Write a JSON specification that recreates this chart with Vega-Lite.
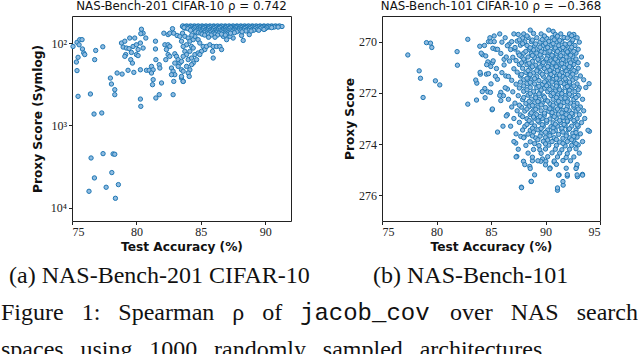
{
  "$schema": "https://vega.github.io/schema/vega-lite/v6.json",
  "padding": {"left": 1, "top": 0, "right": 0, "bottom": 0},
  "background": "white",
  "title": {"text": "spaces\u2002\u2009using\u2002\u20091000\u2002\u2009randomly\u2002\u2009sampled\u2002\u2009architectures.", "orient": "bottom", "anchor": "start", "frame": "group", "dx": -71, "offset": 32, "baseline": "alphabetic", "font": "Liberation Serif", "fontSize": 24, "fontWeight": "normal", "color": "#111"},
  "datasets": {
    "nb201": [
      {"acc":75.08,"score":110},{"acc":75.39,"score":98},{"acc":75.6,"score":91},{"acc":75.78,"score":91},{"acc":75.55,"score":105},{"acc":75.81,"score":118},{"acc":75.91,"score":132},{"acc":75.99,"score":138},{"acc":75.47,"score":149},{"acc":75.34,"score":170},{"acc":76.84,"score":123},{"acc":76.76,"score":159},{"acc":77.39,"score":111},{"acc":75.39,"score":216},{"acc":75.47,"score":443},{"acc":76.43,"score":415},{"acc":76.71,"score":726},{"acc":77.31,"score":705},
      {"acc":78.84,"score":100},{"acc":79.1,"score":95},{"acc":79.48,"score":87},{"acc":79.87,"score":87},{"acc":78.97,"score":112},{"acc":79.22,"score":115},{"acc":79.17,"score":138},{"acc":79.43,"score":117},{"acc":79.61,"score":130},{"acc":79.74,"score":110},{"acc":80.0,"score":105},{"acc":80.13,"score":120},{"acc":80.0,"score":138},{"acc":79.56,"score":159},{"acc":79.69,"score":175},{"acc":79.1,"score":145},
      {"acc":80.39,"score":68},{"acc":80.52,"score":76},{"acc":80.73,"score":87},{"acc":80.34,"score":77},{"acc":80.31,"score":100},{"acc":80.52,"score":115},{"acc":80.13,"score":142},
      {"acc":77.98,"score":266},{"acc":78.06,"score":314},{"acc":78.32,"score":368},{"acc":78.32,"score":423},{"acc":78.5,"score":231},{"acc":78.89,"score":238},{"acc":79.35,"score":214},{"acc":79.8,"score":227},{"acc":80.31,"score":211},{"acc":80.78,"score":214},{"acc":80.99,"score":214},{"acc":81.17,"score":192},{"acc":81.3,"score":211},{"acc":81.17,"score":231},{"acc":81.3,"score":278},{"acc":81.25,"score":320},{"acc":81.51,"score":464},{"acc":81.77,"score":423},{"acc":80.31,"score":478},{"acc":80.34,"score":586},
      {"acc":81.48,"score":95},{"acc":81.48,"score":118},{"acc":81.51,"score":159},{"acc":81.77,"score":183},{"acc":81.82,"score":201},{"acc":81.95,"score":305},{"acc":82.13,"score":76},{"acc":82.46,"score":79},{"acc":82.59,"score":76},{"acc":82.8,"score":67},{"acc":82.9,"score":76},{"acc":83.16,"score":81},{"acc":83.37,"score":83},{"acc":83.58,"score":63},{"acc":83.76,"score":66},{"acc":82.21,"score":105},{"acc":82.46,"score":105},{"acc":82.59,"score":110},{"acc":82.33,"score":120},{"acc":82.46,"score":138},{"acc":82.59,"score":145},{"acc":82.28,"score":159},{"acc":82.72,"score":201},{"acc":82.98,"score":135},{"acc":83.11,"score":145},{"acc":83.24,"score":159},{"acc":83.37,"score":175},{"acc":82.98,"score":175},{"acc":83.24,"score":192},{"acc":83.5,"score":211},{"acc":82.85,"score":220},{"acc":82.98,"score":242},{"acc":82.72,"score":242},{"acc":83.5,"score":266},{"acc":82.9,"score":292},{"acc":83.63,"score":292},{"acc":82.85,"score":423},
      {"acc":83.58,"score":76},{"acc":83.76,"score":83},{"acc":83.5,"score":95},{"acc":84.02,"score":87},{"acc":84.15,"score":95},{"acc":84.41,"score":91},{"acc":83.89,"score":105},{"acc":83.63,"score":110},{"acc":84.28,"score":110},{"acc":84.54,"score":83},{"acc":84.79,"score":91},{"acc":84.92,"score":100},{"acc":85.18,"score":110},{"acc":85.31,"score":120},{"acc":85.05,"score":126},{"acc":85.44,"score":110},{"acc":85.7,"score":105},{"acc":85.96,"score":110},{"acc":86.22,"score":110},{"acc":86.48,"score":110},{"acc":86.61,"score":120},{"acc":85.91,"score":126},{"acc":85.96,"score":152},{"acc":84.41,"score":115},{"acc":84.15,"score":126},{"acc":83.76,"score":126},{"acc":83.89,"score":138},{"acc":83.63,"score":145},{"acc":83.5,"score":167},{"acc":84.02,"score":159},{"acc":84.28,"score":152},{"acc":84.41,"score":175},{"acc":83.89,"score":192},{"acc":84.15,"score":211},{"acc":83.63,"score":220},{"acc":84.02,"score":231},{"acc":83.5,"score":254},{"acc":83.63,"score":292},{"acc":84.1,"score":254},{"acc":84.28,"score":183},{"acc":84.54,"score":138},{"acc":84.67,"score":159},{"acc":84.79,"score":132},{"acc":84.92,"score":138},{"acc":88.29,"score":93},{"acc":88.76,"score":79},{"acc":88.16,"score":81},{"acc":87.51,"score":87},{"acc":87.26,"score":83},{"acc":87.0,"score":91},{"acc":86.74,"score":83},
      {"acc":76.48,"score":2477},{"acc":77.41,"score":2195},{"acc":78.19,"score":2213},{"acc":78.32,"score":2234},{"acc":78.09,"score":3724},{"acc":76.74,"score":4325},{"acc":78.6,"score":5212},{"acc":77.65,"score":5610},{"acc":76.32,"score":6280},{"acc":78.37,"score":7640},
      {"acc":83.6,"score":62},{"acc":83.9,"score":62},{"acc":84.2,"score":62},{"acc":84.5,"score":62},{"acc":84.8,"score":62},{"acc":85.1,"score":62},{"acc":85.4,"score":62},{"acc":85.7,"score":62},{"acc":86.0,"score":62},{"acc":86.3,"score":62},{"acc":86.6,"score":62},{"acc":86.9,"score":62},{"acc":87.2,"score":62},{"acc":87.5,"score":62},{"acc":87.8,"score":62},{"acc":88.1,"score":62},{"acc":88.4,"score":62},{"acc":88.7,"score":62},{"acc":89.0,"score":62},{"acc":89.3,"score":62},{"acc":89.6,"score":62},{"acc":89.9,"score":62},{"acc":90.2,"score":62},{"acc":90.5,"score":62},{"acc":90.8,"score":62},{"acc":91.1,"score":62},{"acc":91.3,"score":63},
      {"acc":83.75,"score":63},{"acc":84.05,"score":63},{"acc":84.35,"score":63},{"acc":84.65,"score":63},{"acc":84.95,"score":63},{"acc":85.25,"score":63},{"acc":85.55,"score":63},{"acc":85.85,"score":63},{"acc":86.15,"score":63},{"acc":86.45,"score":63},{"acc":86.75,"score":63},{"acc":87.05,"score":63},{"acc":87.35,"score":63},{"acc":87.65,"score":63},{"acc":87.95,"score":63},{"acc":88.25,"score":63},{"acc":88.55,"score":63},{"acc":88.85,"score":63},{"acc":89.15,"score":63},{"acc":89.45,"score":63},{"acc":89.75,"score":63},{"acc":90.05,"score":63},{"acc":90.35,"score":63},{"acc":90.65,"score":63},{"acc":90.95,"score":63},
      {"acc":83.8,"score":64},{"acc":84.3,"score":64},{"acc":84.7,"score":64},{"acc":85.2,"score":64},{"acc":85.6,"score":64},{"acc":86.0,"score":64},{"acc":86.5,"score":64},{"acc":86.9,"score":64},{"acc":87.3,"score":64},{"acc":87.8,"score":64},{"acc":88.2,"score":64},{"acc":88.6,"score":64},{"acc":89.0,"score":64},{"acc":89.5,"score":64},{"acc":89.9,"score":64},{"acc":90.3,"score":64},{"acc":90.7,"score":64},{"acc":91.0,"score":64},
      {"acc":83.7,"score":65},{"acc":84.1,"score":65},{"acc":84.5,"score":65},{"acc":84.9,"score":65},{"acc":85.3,"score":65},{"acc":85.7,"score":65},{"acc":86.1,"score":65},{"acc":86.5,"score":65},{"acc":86.9,"score":65},{"acc":87.3,"score":65},{"acc":87.7,"score":65},{"acc":88.1,"score":65},{"acc":88.5,"score":65},{"acc":88.9,"score":65},{"acc":89.3,"score":65},{"acc":89.7,"score":65},{"acc":90.1,"score":65},{"acc":90.5,"score":65},
      {"acc":84.0,"score":67},{"acc":84.4,"score":67},{"acc":84.8,"score":67},{"acc":85.2,"score":67},{"acc":85.6,"score":67},{"acc":86.0,"score":67},{"acc":86.4,"score":67},{"acc":86.8,"score":67},{"acc":87.2,"score":67},{"acc":87.6,"score":67},{"acc":88.0,"score":67},{"acc":88.4,"score":67},{"acc":88.8,"score":67},{"acc":89.2,"score":67},{"acc":89.6,"score":67},{"acc":90.0,"score":67},
      {"acc":84.3,"score":68.5},{"acc":84.9,"score":68.5},{"acc":85.4,"score":68.5},{"acc":85.8,"score":68.5},{"acc":86.2,"score":68.5},{"acc":86.7,"score":68.5},{"acc":87.0,"score":68.5},{"acc":87.6,"score":68.5},{"acc":88.1,"score":68.5},{"acc":88.6,"score":68.5},{"acc":89.0,"score":68.5},{"acc":89.4,"score":68.5},{"acc":89.9,"score":68.5},
      {"acc":84.2,"score":70},{"acc":84.7,"score":70},{"acc":85.1,"score":70},{"acc":85.5,"score":70},{"acc":85.9,"score":70},{"acc":86.3,"score":70},{"acc":86.7,"score":70},{"acc":87.1,"score":70},{"acc":87.5,"score":70},{"acc":87.9,"score":70},{"acc":88.3,"score":70},{"acc":88.7,"score":70},{"acc":89.1,"score":70},{"acc":89.5,"score":70},
      {"acc":84.9,"score":71.5},{"acc":85.3,"score":71.5},{"acc":85.7,"score":71.5},{"acc":86.1,"score":71.5},{"acc":86.5,"score":71.5},{"acc":86.9,"score":71.5},{"acc":87.3,"score":71.5},{"acc":87.7,"score":71.5},{"acc":88.1,"score":71.5},{"acc":88.5,"score":71.5},{"acc":88.9,"score":71.5},
      {"acc":84.6,"score":73},{"acc":85.0,"score":73},{"acc":85.4,"score":73},{"acc":85.8,"score":73},{"acc":86.2,"score":73},{"acc":86.6,"score":73},{"acc":87.0,"score":73},{"acc":87.4,"score":73},{"acc":87.8,"score":73},{"acc":88.2,"score":73},
      {"acc":84.8,"score":75},{"acc":85.3,"score":75},{"acc":85.7,"score":75},{"acc":86.2,"score":75},{"acc":86.7,"score":75},{"acc":87.1,"score":75},{"acc":87.6,"score":75},
      {"acc":85.0,"score":76},{"acc":85.5,"score":76},{"acc":86.0,"score":76},{"acc":86.4,"score":76},{"acc":86.9,"score":76},{"acc":87.3,"score":76},
      {"acc":85.1,"score":78},{"acc":85.6,"score":78},{"acc":86.1,"score":78},{"acc":86.6,"score":78},{"acc":87.0,"score":78},
      {"acc":84.3,"score":80},{"acc":85.3,"score":80},{"acc":85.8,"score":80},{"acc":86.3,"score":80},{"acc":86.9,"score":80},{"acc":85.6,"score":85},{"acc":86.1,"score":85}
    ],
    "nb101": [
      {"acc":77.37,"score":270.52},{"acc":79.08,"score":270.04},{"acc":79.45,"score":270.06},{"acc":79.57,"score":270.23},{"acc":78.41,"score":271.14},{"acc":78.53,"score":271.43},{"acc":78.77,"score":272.18},{"acc":79.9,"score":271.53},{"acc":80.3,"score":271.69},{"acc":81.89,"score":270.39},{"acc":81.92,"score":270.92},{"acc":82.87,"score":269.91},{"acc":83.97,"score":270.18},{"acc":84.22,"score":270.51},{"acc":84.52,"score":270.56},{"acc":84.77,"score":270.0},{"acc":84.98,"score":270.0},{"acc":85.17,"score":270.26},{"acc":84.71,"score":270.79},{"acc":84.98,"score":270.97},{"acc":84.03,"score":271.27},{"acc":84.58,"score":271.27},{"acc":84.77,"score":271.25},{"acc":83.7,"score":271.62},{"acc":84.43,"score":271.83},{"acc":84.71,"score":271.96},{"acc":84.95,"score":271.98},{"acc":84.46,"score":272.19},{"acc":83.67,"score":272.28},{"acc":82.87,"score":272.44},{"acc":85.1,"score":272.66},{"acc":85.6,"score":273.53},
      {"acc":85.29,"score":269.78},{"acc":85.44,"score":270.3},{"acc":85.13,"score":270.82},{"acc":85.59,"score":271.47},{"acc":85.9,"score":271.98},{"acc":86.36,"score":271.34},{"acc":86.2,"score":270.69},{"acc":86.66,"score":270.1},{"acc":86.51,"score":271.85},{"acc":85.13,"score":272.63},{"acc":86.14,"score":272.11},
      {"acc":87.27,"score":273.96},{"acc":87.37,"score":274.48},{"acc":87.98,"score":274.67},{"acc":87.73,"score":273.7},{"acc":88.04,"score":273.72},{"acc":88.56,"score":274.87},{"acc":88.8,"score":274.65},{"acc":89.48,"score":274.22},{"acc":89.72,"score":274.58},{"acc":89.57,"score":274.67},{"acc":90.03,"score":274.67},{"acc":90.42,"score":274.93},{"acc":90.79,"score":274.7},{"acc":91.25,"score":275.2},{"acc":92.0,"score":275.25},{"acc":92.93,"score":275.27},{"acc":93.39,"score":275.18},{"acc":92.84,"score":274.9},{"acc":91.1,"score":275.8},{"acc":91.62,"score":275.6},{"acc":87.79,"score":275.68},{"acc":88.68,"score":275.46},{"acc":94.03,"score":273.5},
      {"acc":88.6,"score":269.55},{"acc":90.3,"score":269.55},{"acc":90.7,"score":269.6},
      {"acc":85.8,"score":269.7},{"acc":87.1,"score":269.7},{"acc":87.5,"score":269.72},{"acc":88.0,"score":269.7},{"acc":88.9,"score":269.68},{"acc":89.6,"score":269.7},{"acc":90.9,"score":269.72},{"acc":91.4,"score":269.7},{"acc":92.2,"score":269.7},{"acc":92.6,"score":269.72},
      {"acc":84.9,"score":269.85},{"acc":86.3,"score":269.85},{"acc":87.9,"score":269.86},{"acc":88.4,"score":269.84},{"acc":89.2,"score":269.85},{"acc":90.1,"score":269.87},{"acc":90.6,"score":269.85},{"acc":91.7,"score":269.84},{"acc":92.0,"score":269.86},{"acc":92.9,"score":269.85},
      {"acc":85.3,"score":270.0},{"acc":86.0,"score":270.02},{"acc":86.9,"score":270.0},{"acc":87.4,"score":269.98},{"acc":88.1,"score":270.01},{"acc":88.7,"score":270.0},{"acc":89.5,"score":270.02},{"acc":90.3,"score":269.99},{"acc":91.0,"score":270.0},{"acc":91.5,"score":270.01},{"acc":92.4,"score":270.0},{"acc":93.1,"score":270.02},
      {"acc":84.4,"score":270.15},{"acc":86.5,"score":270.16},{"acc":87.7,"score":270.14},{"acc":88.3,"score":270.15},{"acc":89.0,"score":270.17},{"acc":89.8,"score":270.15},{"acc":90.5,"score":270.14},{"acc":91.2,"score":270.16},{"acc":91.9,"score":270.15},{"acc":92.7,"score":270.15},
      {"acc":85.6,"score":270.3},{"acc":86.8,"score":270.31},{"acc":87.2,"score":270.29},{"acc":88.5,"score":270.3},{"acc":88.9,"score":270.32},{"acc":89.4,"score":270.3},{"acc":90.0,"score":270.28},{"acc":90.8,"score":270.3},{"acc":91.3,"score":270.31},{"acc":91.8,"score":270.3},{"acc":92.3,"score":270.29},{"acc":93.0,"score":270.3},
      {"acc":84.1,"score":270.45},{"acc":85.9,"score":270.46},{"acc":87.5,"score":270.44},{"acc":88.0,"score":270.45},{"acc":88.7,"score":270.47},{"acc":89.2,"score":270.45},{"acc":89.9,"score":270.43},{"acc":90.4,"score":270.45},{"acc":91.0,"score":270.46},{"acc":91.6,"score":270.45},{"acc":92.1,"score":270.44},{"acc":92.8,"score":270.45},
      {"acc":86.4,"score":270.6},{"acc":87.0,"score":270.61},{"acc":87.8,"score":270.59},{"acc":88.4,"score":270.6},{"acc":89.0,"score":270.62},{"acc":89.6,"score":270.6},{"acc":90.2,"score":270.58},{"acc":90.7,"score":270.6},{"acc":91.3,"score":270.61},{"acc":91.9,"score":270.6},{"acc":92.5,"score":270.59},{"acc":93.3,"score":270.6},
      {"acc":85.2,"score":270.75},{"acc":86.7,"score":270.76},{"acc":87.3,"score":270.74},{"acc":88.1,"score":270.75},{"acc":88.8,"score":270.77},{"acc":89.4,"score":270.75},{"acc":90.0,"score":270.73},{"acc":90.5,"score":270.75},{"acc":91.1,"score":270.76},{"acc":91.7,"score":270.75},{"acc":92.2,"score":270.74},{"acc":92.7,"score":270.75},
      {"acc":84.6,"score":270.9},{"acc":86.2,"score":270.91},{"acc":87.6,"score":270.89},{"acc":88.3,"score":270.9},{"acc":89.1,"score":270.92},{"acc":89.7,"score":270.9},{"acc":90.3,"score":270.88},{"acc":90.9,"score":270.9},{"acc":91.4,"score":270.91},{"acc":92.0,"score":270.9},{"acc":92.6,"score":270.89},{"acc":93.8,"score":270.9},
      {"acc":85.5,"score":271.05},{"acc":87.1,"score":271.06},{"acc":87.9,"score":271.04},{"acc":88.6,"score":271.05},{"acc":89.3,"score":271.07},{"acc":89.9,"score":271.05},{"acc":90.6,"score":271.03},{"acc":91.2,"score":271.05},{"acc":91.8,"score":271.06},{"acc":92.4,"score":271.05},{"acc":93.0,"score":271.04},
      {"acc":84.0,"score":271.2},{"acc":86.0,"score":271.21},{"acc":87.4,"score":271.19},{"acc":88.2,"score":271.2},{"acc":88.9,"score":271.22},{"acc":89.5,"score":271.2},{"acc":90.1,"score":271.18},{"acc":90.8,"score":271.2},{"acc":91.5,"score":271.21},{"acc":92.1,"score":271.2},{"acc":92.8,"score":271.19},
      {"acc":85.4,"score":271.35},{"acc":86.6,"score":271.36},{"acc":87.7,"score":271.34},{"acc":88.5,"score":271.35},{"acc":89.2,"score":271.37},{"acc":89.8,"score":271.35},{"acc":90.4,"score":271.33},{"acc":91.0,"score":271.35},{"acc":91.6,"score":271.36},{"acc":92.3,"score":271.35},{"acc":93.2,"score":271.34},
      {"acc":83.6,"score":271.5},{"acc":86.9,"score":271.51},{"acc":88.0,"score":271.49},{"acc":88.7,"score":271.5},{"acc":89.4,"score":271.52},{"acc":90.1,"score":271.5},{"acc":90.7,"score":271.48},{"acc":91.3,"score":271.5},{"acc":91.9,"score":271.51},{"acc":92.5,"score":271.5},{"acc":93.5,"score":271.49},
      {"acc":85.0,"score":271.65},{"acc":87.3,"score":271.66},{"acc":88.3,"score":271.64},{"acc":89.0,"score":271.65},{"acc":89.7,"score":271.67},{"acc":90.3,"score":271.65},{"acc":91.0,"score":271.63},{"acc":91.7,"score":271.65},{"acc":92.2,"score":271.66},{"acc":92.9,"score":271.65},{"acc":94.0,"score":271.64},
      {"acc":86.3,"score":271.8},{"acc":87.6,"score":271.81},{"acc":88.6,"score":271.79},{"acc":89.2,"score":271.8},{"acc":89.9,"score":271.82},{"acc":90.6,"score":271.8},{"acc":91.2,"score":271.78},{"acc":91.8,"score":271.8},{"acc":92.4,"score":271.81},{"acc":93.1,"score":271.8},{"acc":93.7,"score":271.79},
      {"acc":84.2,"score":271.95},{"acc":87.0,"score":271.96},{"acc":88.0,"score":271.94},{"acc":88.9,"score":271.95},{"acc":89.5,"score":271.97},{"acc":90.2,"score":271.95},{"acc":90.9,"score":271.93},{"acc":91.5,"score":271.95},{"acc":92.1,"score":271.96},{"acc":92.7,"score":271.95},
      {"acc":85.8,"score":272.1},{"acc":87.5,"score":272.11},{"acc":88.4,"score":272.09},{"acc":89.1,"score":272.1},{"acc":89.8,"score":272.12},{"acc":90.5,"score":272.1},{"acc":91.1,"score":272.08},{"acc":91.8,"score":272.1},{"acc":92.4,"score":272.11},{"acc":93.0,"score":272.1},
      {"acc":86.6,"score":272.25},{"acc":87.9,"score":272.26},{"acc":88.7,"score":272.24},{"acc":89.4,"score":272.25},{"acc":90.0,"score":272.27},{"acc":90.7,"score":272.25},{"acc":91.4,"score":272.23},{"acc":92.0,"score":272.25},{"acc":92.6,"score":272.26},{"acc":93.4,"score":272.25},
      {"acc":87.2,"score":272.4},{"acc":88.2,"score":272.41},{"acc":89.0,"score":272.39},{"acc":89.7,"score":272.4},{"acc":90.4,"score":272.42},{"acc":91.0,"score":272.4},{"acc":91.7,"score":272.38},{"acc":92.3,"score":272.4},{"acc":92.9,"score":272.41},
      {"acc":86.9,"score":272.55},{"acc":87.8,"score":272.56},{"acc":88.5,"score":272.54},{"acc":89.3,"score":272.55},{"acc":90.0,"score":272.57},{"acc":90.6,"score":272.55},{"acc":91.3,"score":272.53},{"acc":92.0,"score":272.55},{"acc":92.6,"score":272.56},{"acc":93.2,"score":272.55},
      {"acc":87.4,"score":272.7},{"acc":88.1,"score":272.71},{"acc":88.9,"score":272.69},{"acc":89.6,"score":272.7},{"acc":90.3,"score":272.72},{"acc":90.9,"score":272.7},{"acc":91.6,"score":272.68},{"acc":92.2,"score":272.7},{"acc":92.8,"score":272.71},{"acc":93.5,"score":272.7},
      {"acc":86.5,"score":272.85},{"acc":87.7,"score":272.86},{"acc":88.6,"score":272.84},{"acc":89.2,"score":272.85},{"acc":89.9,"score":272.87},{"acc":90.6,"score":272.85},{"acc":91.2,"score":272.83},{"acc":91.9,"score":272.85},{"acc":92.5,"score":272.86},{"acc":93.1,"score":272.85},
      {"acc":87.1,"score":273.0},{"acc":88.3,"score":273.01},{"acc":89.0,"score":272.99},{"acc":89.7,"score":273.0},{"acc":90.4,"score":273.02},{"acc":91.0,"score":273.0},{"acc":91.7,"score":272.98},{"acc":92.3,"score":273.0},{"acc":92.9,"score":273.01},{"acc":93.6,"score":273.0},
      {"acc":87.6,"score":273.15},{"acc":88.7,"score":273.16},{"acc":89.4,"score":273.14},{"acc":90.1,"score":273.15},{"acc":90.7,"score":273.17},{"acc":91.4,"score":273.15},{"acc":92.0,"score":273.13},{"acc":92.7,"score":273.15},{"acc":93.3,"score":273.16},
      {"acc":86.8,"score":273.3},{"acc":88.1,"score":273.31},{"acc":89.0,"score":273.29},{"acc":89.8,"score":273.3},{"acc":90.5,"score":273.32},{"acc":91.1,"score":273.3},{"acc":91.8,"score":273.28},{"acc":92.4,"score":273.3},{"acc":93.0,"score":273.31},
      {"acc":87.9,"score":273.45},{"acc":88.6,"score":273.46},{"acc":89.3,"score":273.44},{"acc":90.2,"score":273.45},{"acc":90.9,"score":273.47},{"acc":91.5,"score":273.45},{"acc":92.1,"score":273.43},{"acc":92.8,"score":273.45},{"acc":93.9,"score":273.46},
      {"acc":87.3,"score":273.6},{"acc":88.4,"score":273.61},{"acc":89.6,"score":273.59},{"acc":90.4,"score":273.6},{"acc":91.2,"score":273.62},{"acc":91.9,"score":273.6},{"acc":92.5,"score":273.58},{"acc":93.2,"score":273.6},
      {"acc":88.0,"score":273.75},{"acc":89.1,"score":273.76},{"acc":90.0,"score":273.74},{"acc":90.8,"score":273.75},{"acc":91.6,"score":273.77},{"acc":92.2,"score":273.75},{"acc":92.9,"score":273.73},
      {"acc":87.1,"score":273.9},{"acc":88.6,"score":273.91},{"acc":89.8,"score":273.89},{"acc":90.6,"score":273.9},{"acc":91.3,"score":273.92},{"acc":92.0,"score":273.9},{"acc":92.6,"score":273.88},{"acc":93.4,"score":273.9},
      {"acc":88.2,"score":274.05},{"acc":89.4,"score":274.06},{"acc":90.3,"score":274.04},{"acc":91.0,"score":274.05},{"acc":91.8,"score":274.07},{"acc":92.4,"score":274.05},{"acc":93.0,"score":274.03},
      {"acc":87.5,"score":274.2},{"acc":88.9,"score":274.21},{"acc":90.0,"score":274.19},{"acc":90.9,"score":274.2},{"acc":91.5,"score":274.22},{"acc":92.2,"score":274.2},{"acc":92.8,"score":274.18},
      {"acc":88.4,"score":274.35},{"acc":89.6,"score":274.36},{"acc":90.6,"score":274.34},{"acc":91.3,"score":274.35},{"acc":92.0,"score":274.37},{"acc":93.1,"score":274.35},
      {"acc":87.3,"score":274.5},{"acc":88.8,"score":274.51},{"acc":90.2,"score":274.49},{"acc":91.1,"score":274.5},{"acc":91.9,"score":274.52},{"acc":92.6,"score":274.5},
      {"acc":89.3,"score":274.65},{"acc":90.8,"score":274.66},{"acc":91.6,"score":274.64},{"acc":92.3,"score":274.65},
      {"acc":88.1,"score":274.8},{"acc":90.0,"score":274.81},{"acc":91.0,"score":274.79},{"acc":92.9,"score":274.8},
      {"acc":88.6,"score":274.95},{"acc":90.4,"score":274.96},{"acc":91.9,"score":274.94},{"acc":92.8,"score":274.95},
      {"acc":89.0,"score":275.2},{"acc":91.2,"score":275.21},{"acc":92.0,"score":275.19},{"acc":92.9,"score":275.2},{"acc":93.4,"score":275.21},
      {"acc":88.7,"score":275.45},{"acc":91.6,"score":275.46},{"acc":87.8,"score":275.7},{"acc":91.1,"score":275.71},
      {"acc":86.1,"score":273.3},{"acc":86.4,"score":272.9},{"acc":85.9,"score":272.3},
      {"acc":88.3,"score":269.78},{"acc":89.9,"score":269.78},{"acc":91.1,"score":269.79},{"acc":92.4,"score":269.77},
      {"acc":87.6,"score":269.93},{"acc":88.8,"score":269.94},{"acc":89.7,"score":269.92},{"acc":90.8,"score":269.93},{"acc":91.3,"score":269.95},{"acc":92.5,"score":269.93},
      {"acc":87.9,"score":270.08},{"acc":89.1,"score":270.09},{"acc":90.0,"score":270.07},{"acc":90.7,"score":270.08},{"acc":91.8,"score":270.1},{"acc":92.2,"score":270.08},
      {"acc":87.2,"score":270.23},{"acc":88.6,"score":270.24},{"acc":89.5,"score":270.22},{"acc":90.2,"score":270.23},{"acc":90.9,"score":270.25},{"acc":91.6,"score":270.23},{"acc":92.4,"score":270.22},
      {"acc":88.2,"score":270.38},{"acc":89.6,"score":270.39},{"acc":90.4,"score":270.37},{"acc":91.1,"score":270.38},{"acc":92.0,"score":270.4},{"acc":92.6,"score":270.38},
      {"acc":87.6,"score":270.53},{"acc":88.8,"score":270.54},{"acc":89.5,"score":270.52},{"acc":90.6,"score":270.53},{"acc":91.4,"score":270.55},{"acc":92.3,"score":270.53},
      {"acc":88.0,"score":270.68},{"acc":89.3,"score":270.69},{"acc":90.1,"score":270.67},{"acc":90.9,"score":270.68},{"acc":91.6,"score":270.7},{"acc":92.8,"score":270.68},
      {"acc":87.8,"score":270.83},{"acc":88.5,"score":270.84},{"acc":89.8,"score":270.82},{"acc":90.7,"score":270.83},{"acc":91.5,"score":270.85},{"acc":92.3,"score":270.83},{"acc":93.0,"score":270.82},
      {"acc":88.8,"score":270.98},{"acc":89.5,"score":270.99},{"acc":90.2,"score":270.97},{"acc":91.0,"score":270.98},{"acc":91.7,"score":271.0},{"acc":92.2,"score":270.98},
      {"acc":88.4,"score":271.13},{"acc":89.2,"score":271.14},{"acc":90.4,"score":271.12},{"acc":91.1,"score":271.13},{"acc":91.9,"score":271.15},{"acc":92.6,"score":271.13},
      {"acc":87.8,"score":271.28},{"acc":88.6,"score":271.29},{"acc":89.7,"score":271.27},{"acc":90.5,"score":271.28},{"acc":91.3,"score":271.3},{"acc":92.0,"score":271.28},{"acc":92.5,"score":271.27},
      {"acc":88.3,"score":271.43},{"acc":89.0,"score":271.44},{"acc":90.3,"score":271.42},{"acc":91.0,"score":271.43},{"acc":91.8,"score":271.45},{"acc":92.8,"score":271.43},
      {"acc":87.7,"score":271.58},{"acc":88.6,"score":271.59},{"acc":89.9,"score":271.57},{"acc":90.6,"score":271.58},{"acc":91.4,"score":271.6},{"acc":92.2,"score":271.58},
      {"acc":88.0,"score":271.73},{"acc":89.4,"score":271.74},{"acc":90.1,"score":271.72},{"acc":91.0,"score":271.73},{"acc":92.0,"score":271.75},{"acc":92.6,"score":271.73},
      {"acc":88.3,"score":271.88},{"acc":89.6,"score":271.89},{"acc":90.4,"score":271.87},{"acc":91.3,"score":271.88},{"acc":92.2,"score":271.9},{"acc":93.0,"score":271.88},
      {"acc":88.6,"score":272.03},{"acc":89.4,"score":272.04},{"acc":90.7,"score":272.02},{"acc":91.5,"score":272.03},{"acc":92.2,"score":272.05},
      {"acc":88.0,"score":272.18},{"acc":89.1,"score":272.19},{"acc":89.9,"score":272.17},{"acc":91.0,"score":272.18},{"acc":91.8,"score":272.2},{"acc":92.8,"score":272.18},
      {"acc":88.5,"score":272.33},{"acc":89.3,"score":272.34},{"acc":90.2,"score":272.32},{"acc":91.2,"score":272.33},{"acc":92.0,"score":272.35},
      {"acc":87.6,"score":272.48},{"acc":88.8,"score":272.49},{"acc":89.6,"score":272.47},{"acc":90.7,"score":272.48},{"acc":91.4,"score":272.5},{"acc":92.6,"score":272.48},
      {"acc":88.3,"score":272.63},{"acc":89.1,"score":272.64},{"acc":90.4,"score":272.62},{"acc":91.1,"score":272.63},{"acc":91.9,"score":272.65},{"acc":93.0,"score":272.63},
      {"acc":88.7,"score":272.78},{"acc":89.9,"score":272.79},{"acc":90.6,"score":272.77},{"acc":91.5,"score":272.78},{"acc":92.4,"score":272.8},
      {"acc":87.9,"score":272.93},{"acc":88.9,"score":272.94},{"acc":89.5,"score":272.92},{"acc":90.8,"score":272.93},{"acc":91.6,"score":272.95},{"acc":92.2,"score":272.93},
      {"acc":88.5,"score":273.08},{"acc":89.3,"score":273.09},{"acc":90.1,"score":273.07},{"acc":91.3,"score":273.08},{"acc":92.0,"score":273.1},{"acc":92.6,"score":273.08},
      {"acc":88.3,"score":273.23},{"acc":89.7,"score":273.24},{"acc":90.9,"score":273.22},{"acc":91.7,"score":273.23},{"acc":92.9,"score":273.25},
      {"acc":88.8,"score":273.38},{"acc":89.6,"score":273.39},{"acc":90.7,"score":273.37},{"acc":91.5,"score":273.38},{"acc":92.2,"score":273.4},
      {"acc":88.9,"score":273.53},{"acc":90.0,"score":273.54},{"acc":90.7,"score":273.52},{"acc":91.6,"score":273.53},{"acc":92.8,"score":273.55},
      {"acc":88.8,"score":273.68},{"acc":89.5,"score":273.69},{"acc":90.4,"score":273.67},{"acc":91.9,"score":273.68},{"acc":92.6,"score":273.7},
      {"acc":89.3,"score":273.83},{"acc":90.2,"score":273.84},{"acc":91.0,"score":273.82},{"acc":92.4,"score":273.83},
      {"acc":89.0,"score":273.98},{"acc":90.0,"score":273.99},{"acc":91.6,"score":273.97},{"acc":92.8,"score":273.98}
    ]
  },
  "vconcat": [
    {
      "title": {"text": "over\u2002 NAS\u2002 search", "orient": "bottom", "anchor": "start", "frame": "group", "dx": 378, "offset": -5, "baseline": "alphabetic", "font": "Liberation Serif", "fontSize": 24, "fontWeight": "normal", "color": "#111"},
      "vconcat": [
        {
          "title": {"text": "jacob_cov", "orient": "bottom", "anchor": "start", "frame": "group", "dx": 228, "offset": -5, "baseline": "alphabetic", "font": "Liberation Mono", "fontSize": 24, "fontWeight": "normal", "color": "#111"},
          "vconcat": [
            {
              "title": {"text": "Figure\u2002 1:\u2002 Spearman\u2002 ρ\u2002 of", "orient": "bottom", "anchor": "start", "frame": "group", "dx": -71, "offset": 32, "baseline": "alphabetic", "font": "Liberation Serif", "fontSize": 24, "fontWeight": "normal", "color": "#111"},
              "vconcat": [
                {
                  "spacing": 33,
                  "hconcat": [
                    {
                      "title": {"text": "(a) NAS-Bench-201 CIFAR-10", "orient": "bottom", "anchor": "start", "frame": "group", "dx": -63, "offset": 30, "baseline": "alphabetic", "font": "Liberation Serif", "fontSize": 24, "fontWeight": "normal", "color": "#111"},
                      "vconcat": [
                        {
                          "title": {"text": "NAS-Bench-201 CIFAR-10 ρ = 0.742", "offset": 3},
                          "width": 219, "height": 205,
                          "data": {"name": "nb201"},
                          "mark": {"type": "point", "filled": true, "fill": "#8fbbe0", "stroke": "#1f77b4", "strokeWidth": 1, "size": 19, "opacity": 1},
                          "encoding": {
                            "x": {"field": "acc", "type": "quantitative", "scale": {"domain": [75, 92], "nice": false, "zero": false}, "axis": {"values": [75, 80, 85, 90], "title": "Test Accuracy (%)"}},
                            "y": {"field": "score", "type": "quantitative", "scale": {"type": "log", "domain": [47, 14400], "reverse": true, "nice": false}, "axis": {"values": [100, 1000, 10000], "labelExpr": "datum.value == 100 ? '10²' : datum.value == 1000 ? '10³' : '10⁴'", "title": "Proxy Score (Symlog)", "titlePadding": 6}}
                          }
                        }
                      ]
                    },
                    {
                      "title": {"text": "(b) NAS-Bench-101", "orient": "bottom", "anchor": "start", "frame": "group", "dx": -9, "offset": 30, "baseline": "alphabetic", "font": "Liberation Serif", "fontSize": 24, "fontWeight": "normal", "color": "#111"},
                      "vconcat": [
                        {
                          "title": {"text": "NAS-Bench-101 CIFAR-10 ρ = −0.368", "offset": 3},
                          "width": 218, "height": 205,
                          "data": {"name": "nb101"},
                          "mark": {"type": "point", "filled": true, "fill": "#8fbbe0", "stroke": "#1f77b4", "strokeWidth": 1, "size": 19, "opacity": 1},
                          "encoding": {
                            "x": {"field": "acc", "type": "quantitative", "scale": {"domain": [75, 95], "nice": false, "zero": false}, "axis": {"values": [75, 80, 85, 90, 95], "title": "Test Accuracy (%)"}},
                            "y": {"field": "score", "type": "quantitative", "scale": {"domain": [269, 277], "reverse": true, "nice": false, "zero": false}, "axis": {"values": [270, 272, 274, 276], "title": "Proxy Score", "titlePadding": 2}}
                          }
                        }
                      ]
                    }
                  ]
                }
              ]
            }
          ]
        }
      ]
    }
  ],
  "config": {
    "view": {"stroke": "#222", "strokeWidth": 1},
    "title": {"font": "DejaVu Sans", "fontSize": 11.8, "fontWeight": "normal", "color": "#111", "anchor": "middle"},
    "axis": {"grid": false, "domain": false, "tickColor": "#222", "tickSize": 3.5, "labelPadding": 2, "labelFont": "Liberation Serif", "labelFontSize": 12, "labelColor": "#222", "titleFont": "DejaVu Sans", "titleFontWeight": "bold", "titleFontSize": 12.2, "titleColor": "#111", "titlePadding": 3}
  }
}
